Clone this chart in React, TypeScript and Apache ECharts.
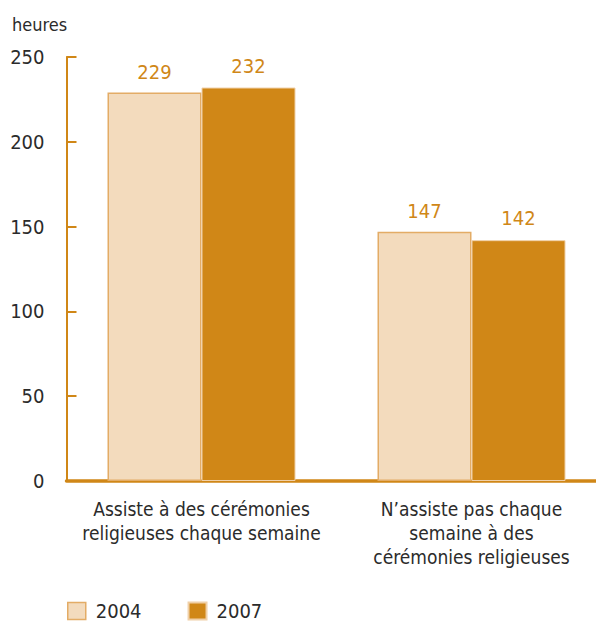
import React, { useEffect, useRef } from "react";
import * as echarts from "echarts";

const categories = [
  "Assiste à des cérémonies\nreligieuses chaque semaine",
  "N’assiste pas chaque\nsemaine à des\ncérémonies religieuses",
];
const series2004 = [229, 147];
const series2007 = [232, 142];
const seriesNames = ["2004", "2007"];
const yTicks = { min: 0, max: 250, interval: 50 };
const unitLabel = "heures";

const FONT = "'Liberation Sans Narrow', 'DejaVu Sans Condensed', 'Roboto', sans-serif";
const ORANGE = "#D08717";
const LIGHT = "#F3DBBD";
const LIGHT_BORDER = "#E3AC66";
const TEXT = "#2b2b2b";

export default function App() {
  const ref = useRef<HTMLDivElement>(null);
  useEffect(() => {
    if (!ref.current) return;
    const chart = echarts.init(ref.current, undefined, { renderer: "svg" });
    chart.setOption({
      animation: false,
      textStyle: { fontFamily: FONT },
      grid: { left: 66.5, top: 57, width: 540, height: 424, containLabel: false },
      graphic: [
        {
          type: "text",
          left: 12,
          top: 15,
          style: { text: unitLabel, fontSize: 18, fill: TEXT, fontFamily: FONT },
        },
      ],
      legend: {
        left: 67,
        top: 601,
        padding: 0,
        itemWidth: 18,
        itemHeight: 17,
        itemGap: 46,
        textStyle: { fontSize: 20, color: TEXT, fontFamily: FONT, padding: [0, 0, 0, 5] },
        data: [
          { name: seriesNames[0], icon: "rect", itemStyle: { color: LIGHT, borderColor: LIGHT_BORDER, borderWidth: 1.5 } },
          { name: seriesNames[1], icon: "rect", itemStyle: { color: ORANGE } },
        ],
      },
      xAxis: {
        type: "category",
        data: categories,
        axisLine: { lineStyle: { color: ORANGE, width: 3.5 } },
        axisTick: { show: false },
        axisLabel: { fontSize: 19, color: TEXT, lineHeight: 24, margin: 16, fontFamily: FONT, interval: 0 },
      },
      yAxis: {
        type: "value",
        min: yTicks.min,
        max: yTicks.max,
        interval: yTicks.interval,
        axisLine: { show: true, lineStyle: { color: ORANGE, width: 2 } },
        axisTick: { show: true, inside: true, length: 10, lineStyle: { color: ORANGE, width: 2 } },
        splitLine: { show: false },
        axisLabel: { fontSize: 20, color: TEXT, margin: 22, fontFamily: FONT },
      },
      series: [
        {
          name: seriesNames[0],
          type: "bar",
          data: series2004,
          barGap: "0%",
          barWidth: 94,
          itemStyle: { color: LIGHT, borderColor: LIGHT_BORDER, borderWidth: 1.5 },
          label: { show: true, position: "top", distance: 11, fontSize: 20, color: ORANGE, fontFamily: FONT },
        },
        {
          name: seriesNames[1],
          type: "bar",
          data: series2007,
          barGap: "0%",
          barWidth: 94,
          itemStyle: { color: ORANGE, borderColor: "#F0D0A8", borderWidth: 1 },
          label: { show: true, position: "top", distance: 12, fontSize: 20, color: ORANGE, fontFamily: FONT },
        },
      ],
    });
    return () => chart.dispose();
  }, []);
  return (
    <div style={{ width: 596, height: 625, position: "absolute", left: 0, top: 0, overflow: "hidden" }}>
      <div ref={ref} style={{ width: 620, height: 625 }} />
    </div>
  );
}
